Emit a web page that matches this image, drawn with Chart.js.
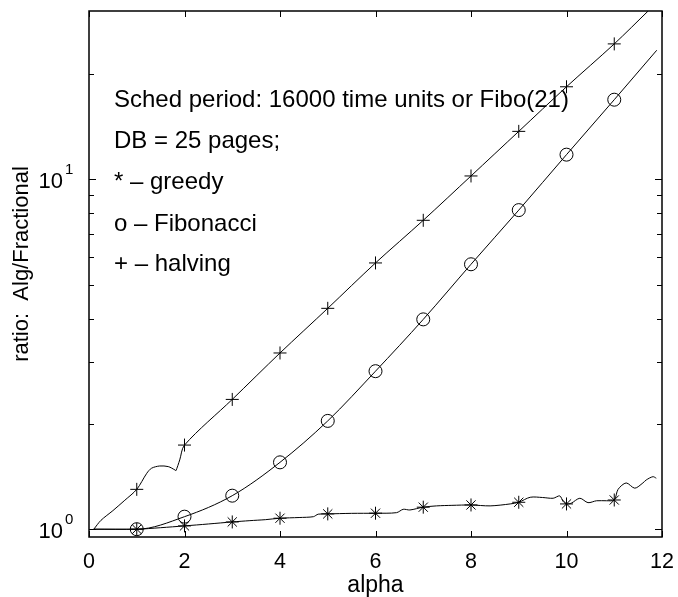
<!DOCTYPE html>
<html>
<head>
<meta charset="utf-8">
<script src="https://cdn.jsdelivr.net/npm/chart.js@4.4.0/dist/chart.umd.min.js"></script>
<style>
  html, body { margin: 0; padding: 0; background: #fff; }
  #wrap { width: 678px; height: 597px; }
</style>
</head>
<body>
<div id="wrap"><canvas id="ratioChart" width="678" height="597"></canvas></div>
<script>
// sample points (alpha = 1..11) where markers are plotted
const alphaMarks = [1, 2, 3, 4, 5, 6, 7, 8, 9, 10, 11];
const greedyMarks = [1.0, 1.022, 1.049, 1.075, 1.106, 1.111, 1.156, 1.173, 1.194, 1.181, 1.212];
const fiboMarks = [1.0, 1.086, 1.247, 1.553, 2.04, 2.83, 3.98, 5.72, 8.17, 11.77, 16.9];
const halvingMarks = [1.30, 1.74, 2.35, 3.19, 4.28, 5.77, 7.64, 10.23, 13.72, 18.4, 24.4];

// full curves
const greedyX = [0.1, 1, 1.5, 2, 2.5, 3, 3.37, 3.7, 4, 4.4, 4.7, 4.8, 5, 5.5, 6, 6.44, 6.58, 6.72, 7, 7.28, 7.6, 8,
                 8.4, 8.82, 9, 9.24, 9.5, 9.72, 9.86, 9.93, 10, 10.1, 10.28, 10.45, 10.63, 10.84, 11, 11.08, 11.25,
                 11.43, 11.6, 11.67, 11.81, 11.88];
const greedyY = [1.0, 1.0, 1.01, 1.022, 1.035, 1.049, 1.058, 1.065, 1.075, 1.08, 1.086, 1.104, 1.106, 1.11, 1.111,
                 1.115, 1.14, 1.135, 1.156, 1.166, 1.17, 1.173, 1.166, 1.181, 1.194, 1.234, 1.232, 1.226, 1.245, 1.2,
                 1.181, 1.187, 1.226, 1.191, 1.206, 1.206, 1.212, 1.30, 1.356, 1.31, 1.356, 1.383, 1.413, 1.399];
const fiboX = [0.1, 1, 2, 3, 4, 5, 6, 7, 8, 9, 10, 11, 11.89];
const fiboY = [1.0, 1.0, 1.086, 1.247, 1.553, 2.04, 2.83, 3.98, 5.72, 8.17, 11.77, 16.9, 23.4];
const halvingX = [0.1, 0.25, 0.5, 0.75, 1, 1.21, 1.31, 1.48, 1.66, 1.8, 1.82, 1.9, 2, 3, 4, 5, 6, 7, 8, 9, 10, 11, 11.71];
const halvingY = [1.0, 1.06, 1.13, 1.21, 1.30, 1.445, 1.494, 1.516, 1.51, 1.477, 1.47, 1.578, 1.74, 2.35, 3.19, 4.28,
                  5.77, 7.64, 10.23, 13.72, 18.4, 24.4, 30.3];

// axis ticks
const xTicks = [0, 2, 4, 6, 8, 10, 12];
const yMajorTicks = [1, 10];
const yMinorTicks = [2, 3, 4, 5, 6, 7, 8, 9, 20];

const noteLines = [
  'Sched period: 16000 time units or Fibo(21)',
  'DB = 25 pages;',
  '* \u2013 greedy',
  'o \u2013 Fibonacci',
  '+ \u2013 halving'
];
const noteBaselines = [107, 148, 189, 231, 271];

const FONT = '"Liberation Sans", Arial, Helvetica, sans-serif';

function pts(xs, ys) {
  return xs.map((x, i) => ({ x: x, y: ys[i] }));
}

function lineSet(data, tension, monotone) {
  const ds = {
    data: data,
    showLine: true,
    borderColor: '#000',
    borderWidth: 1,
    pointRadius: 0,
    fill: false,
    tension: tension
  };
  if (monotone) ds.cubicInterpolationMode = 'monotone';
  return ds;
}

function markerSet(values, style) {
  return {
    data: pts(alphaMarks, values),
    showLine: false,
    pointStyle: style,
    pointRadius: 6.5,
    pointBorderColor: '#000',
    pointBackgroundColor: 'rgba(0,0,0,0)',
    pointBorderWidth: 1
  };
}

// notes go under the curves, frame and axis decorations on top
const decorations = {
  id: 'decorations',
  beforeDatasetsDraw(chart) {
    const ctx = chart.ctx;
    ctx.save();
    ctx.fillStyle = '#000';
    ctx.font = '24px ' + FONT;
    ctx.textAlign = 'left';
    ctx.textBaseline = 'alphabetic';
    noteLines.forEach((t, i) => ctx.fillText(t, 114, noteBaselines[i]));
    ctx.restore();
  },
  afterDraw(chart) {
    const ctx = chart.ctx;
    const a = chart.chartArea;
    const xs = chart.scales.x;
    const ys = chart.scales.y;
    ctx.save();
    ctx.strokeStyle = '#000';
    ctx.lineWidth = 1.5;
    ctx.strokeRect(a.left, a.top, a.right - a.left, a.bottom - a.top);

    ctx.lineWidth = 1;
    ctx.beginPath();
    xTicks.forEach(v => {
      const px = Math.round(xs.getPixelForValue(v)) + 0.5;
      ctx.moveTo(px, a.bottom); ctx.lineTo(px, a.bottom - 6);
      ctx.moveTo(px, a.top); ctx.lineTo(px, a.top + 6);
    });
    yMajorTicks.forEach(v => {
      const py = Math.round(ys.getPixelForValue(v)) + 0.5;
      ctx.moveTo(a.left, py); ctx.lineTo(a.left + 7, py);
      ctx.moveTo(a.right, py); ctx.lineTo(a.right - 7, py);
    });
    yMinorTicks.forEach(v => {
      const py = Math.round(ys.getPixelForValue(v)) + 0.5;
      ctx.moveTo(a.left, py); ctx.lineTo(a.left + 5, py);
      ctx.moveTo(a.right, py); ctx.lineTo(a.right - 5, py);
    });
    ctx.stroke();

    // y labels as 10^k
    ctx.fillStyle = '#000';
    yMajorTicks.forEach(v => {
      const py = ys.getPixelForValue(v);
      ctx.font = '22px ' + FONT;
      ctx.textAlign = 'right';
      ctx.fillText('10', 63, py + 8.5);
      ctx.font = '15px ' + FONT;
      ctx.textAlign = 'left';
      ctx.fillText(String(Math.round(Math.log10(v))), 65, py - 5.5);
    });

    // y axis title
    ctx.translate(28, 264);
    ctx.rotate(-Math.PI / 2);
    ctx.font = '22px ' + FONT;
    ctx.textAlign = 'center';
    ctx.textBaseline = 'alphabetic';
    ctx.fillText('ratio:  Alg/Fractional', 0, 0);
    ctx.restore();
  }
};

new Chart(document.getElementById('ratioChart').getContext('2d'), {
  type: 'scatter',
  data: {
    datasets: [
      markerSet(greedyMarks, 'star'),
      markerSet(fiboMarks, 'circle'),
      markerSet(halvingMarks, 'cross'),
      lineSet(pts(greedyX, greedyY), 0.3, false),
      lineSet(pts(fiboX, fiboY), 0, true),
      lineSet(pts(halvingX, halvingY), 0.3, false)
    ]
  },
  options: {
    responsive: false,
    devicePixelRatio: 1,
    animation: false,
    layout: { padding: { left: 0, right: 16, top: 11, bottom: 0 } },
    plugins: { legend: { display: false }, tooltip: { enabled: false } },
    scales: {
      x: {
        type: 'linear',
        min: 0,
        max: 12,
        grid: { display: false, drawTicks: false },
        border: { display: false },
        ticks: {
          stepSize: 2,
          padding: 12,
          color: '#000',
          font: { family: FONT, size: 21.5 }
        },
        title: {
          display: true,
          text: 'alpha',
          color: '#000',
          padding: { top: 0, bottom: 0 },
          font: { family: FONT, size: 23, lineHeight: 1 }
        },
        afterFit: s => {
          s.height = 60;
          s.paddingLeft = 0;
          s.paddingRight = 0;
        }
      },
      y: {
        type: 'logarithmic',
        min: 0.95,
        max: 30.3,
        grid: { display: false, drawTicks: false },
        border: { display: false },
        ticks: { display: false },
        afterFit: s => { s.width = 89; }
      }
    }
  },
  plugins: [decorations]
});
</script>
</body>
</html>
